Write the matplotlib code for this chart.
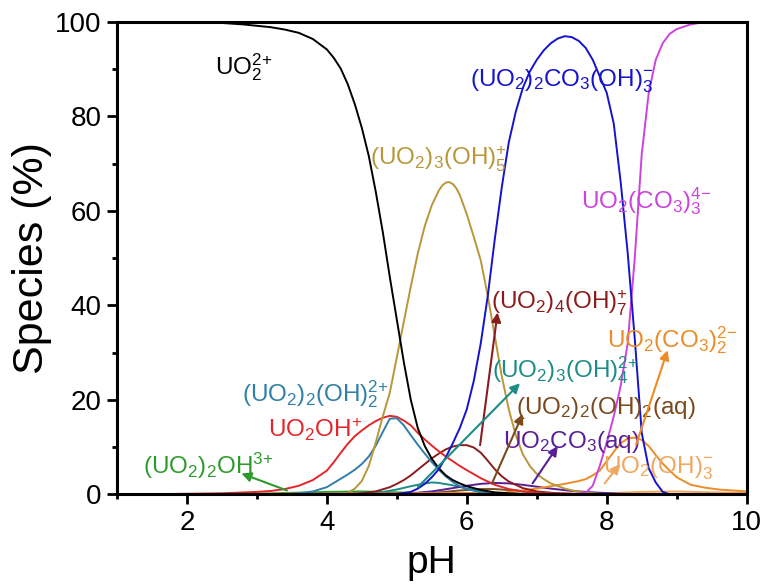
import matplotlib
matplotlib.use("Agg")
import matplotlib.pyplot as plt
from matplotlib.ticker import MultipleLocator

plt.rcParams['font.family'] = ['Liberation Sans', 'DejaVu Sans']
plt.rcParams['mathtext.fontset'] = 'custom'
plt.rcParams['mathtext.rm'] = 'Liberation Sans'
plt.rcParams['mathtext.it'] = 'Liberation Sans:italic'
plt.rcParams['mathtext.bf'] = 'Liberation Sans:bold'

# ---- data (pH, species %) ----
ph_uo2 = [1.4, 2.0, 2.5, 2.8, 3.0, 3.2, 3.4, 3.6, 3.8, 4.0, 4.1, 4.2, 4.3, 4.4, 4.5, 4.6, 4.7, 4.8,
          4.9, 5.0, 5.1, 5.2, 5.3, 5.4, 5.5, 5.6, 5.7, 5.8, 5.9, 6.0, 6.2, 6.4, 6.6, 7.0, 10.0]
uo2 = [100, 100, 99.8, 99.5, 99.2, 98.9, 98.4, 97.7, 96.4, 94.2, 92.4, 90.1, 86.8, 82.6, 77.6, 71.6, 64, 55.5,
       46, 37, 28, 20, 14, 10.2, 7.5, 5.5, 4, 3, 2.3, 1.7, 0.9, 0.4, 0.2, 0, 0]

ph_uo2oh = [1.4, 2.0, 2.5, 3.0, 3.2, 3.4, 3.6, 3.8, 4.0, 4.1, 4.2, 4.3, 4.4, 4.5, 4.6, 4.7, 4.8, 4.9,
            5.0, 5.1, 5.2, 5.3, 5.4, 5.5, 5.6, 5.7, 5.8, 5.9, 6.0, 6.2, 6.4, 6.6, 6.8, 7.0, 7.5, 8.0, 10.0]
uo2oh = [0, 0.1, 0.2, 0.5, 0.7, 1.1, 1.8, 3, 5.0, 6.8, 8.8, 10.7, 12.3, 13.5, 14.6, 15.5, 16.2, 16.6,
         16.4, 15.6, 14.6, 13, 11.6, 10.3, 9.1, 8, 7, 6, 5.1, 3.4, 2, 1.1, 0.6, 0.3, 0.1, 0, 0]

ph_u2oh2 = [1.4, 3.4, 3.6, 3.8, 4.0, 4.1, 4.2, 4.3, 4.4, 4.5, 4.6, 4.7, 4.8, 4.9, 5.0, 5.1, 5.2, 5.3,
            5.4, 5.5, 5.6, 5.7, 5.8, 5.9, 6.0, 6.2, 6.4, 6.6, 10.0]
u2oh2 = [0, 0, 0.2, 0.6, 1.5, 2.4, 3.3, 4.2, 5.2, 6.4, 8, 10.3, 13.2, 16, 16.1, 14.6, 12.5, 10.5,
         8.6, 6.8, 5.2, 3.8, 2.6, 1.7, 1.1, 0.4, 0.1, 0, 0]

ph_u3oh5 = [1.4, 4.2, 4.3, 4.4, 4.5, 4.6, 4.7, 4.8, 4.9, 5.0, 5.1, 5.2, 5.3, 5.4, 5.5, 5.6, 5.65, 5.7,
            5.75, 5.8, 5.85, 5.9, 6.0, 6.1, 6.2, 6.3, 6.4, 6.5, 6.6, 6.7, 6.8, 6.9, 7.0, 7.1, 7.2,
            7.4, 7.6, 7.8, 8.0, 10.0]
u3oh5 = [0, 0, 0.3, 1.2, 2.8, 6, 11, 16.5, 21.5, 29, 36.5, 44, 51, 56.8, 61.2, 64.3, 65.4, 66,
         66.1, 65.7, 64.8, 63.4, 59.3, 54.5, 49.5, 42, 33.5, 25, 18, 12.5, 8.5, 6, 4.3, 3.2, 2.3,
         1.2, 0.5, 0.2, 0, 0]

ph_u4oh7 = [1.4, 4.3, 4.5, 4.7, 4.9, 5.0, 5.1, 5.2, 5.3, 5.4, 5.5, 5.6, 5.7, 5.8, 5.9, 6.0, 6.1, 6.2,
            6.3, 6.4, 6.5, 6.6, 6.8, 7.0, 7.3, 7.6, 10.0]
u4oh7 = [0, 0, 0.2, 0.6, 1.5, 2.2, 3, 4, 5.2, 6.4, 7.6, 8.6, 9.5, 10.1, 10.4, 10.4, 9.9, 8.8,
         7.1, 5.3, 3.8, 2.7, 1.3, 0.6, 0.2, 0, 0]

ph_u3oh4 = [1.4, 4.5, 4.8, 5.0, 5.2, 5.4, 5.5, 5.6, 5.8, 6.0, 6.2, 6.4, 6.8, 10.0]
u3oh4 = [0, 0.1, 0.5, 1, 1.7, 2.3, 2.5, 2.4, 1.9, 1.2, 0.7, 0.3, 0, 0]

ph_u2oh2aq = [1.4, 5.3, 5.6, 5.9, 6.2, 6.4, 6.7, 7.0, 7.4, 7.8, 10.0]
u2oh2aq = [0, 0.1, 0.4, 0.8, 1.1, 1.1, 0.8, 0.4, 0.1, 0, 0]

ph_u2oh = [1.4, 3.0, 3.5, 4.0, 4.5, 5.0, 5.5, 6.0, 10.0]
u2oh = [0, 0.1, 0.3, 0.5, 0.6, 0.4, 0.1, 0, 0]

ph_uco3 = [1.4, 5.0, 5.2, 5.5, 5.8, 6.0, 6.2, 6.4, 6.6, 6.8, 7.0, 7.2, 7.5, 7.8, 8.2, 8.6, 10.0]
uco3 = [0, 0, 0.2, 0.6, 1.3, 1.8, 2.2, 2.4, 2.3, 2, 1.6, 1.2, 0.7, 0.4, 0.1, 0, 0]

ph_u2co3 = [1.4, 5.0, 5.2, 5.3, 5.4, 5.5, 5.6, 5.7, 5.8, 5.9, 6.0, 6.1, 6.2, 6.3, 6.4, 6.5, 6.6, 6.7,
            6.8, 6.9, 7.0, 7.1, 7.2, 7.3, 7.4, 7.5, 7.6, 7.7, 7.8, 7.9, 8.0, 8.1, 8.2, 8.3, 8.4, 8.5,
            8.6, 8.7, 8.8, 8.9, 10.0]
u2co3 = [0, 0.1, 0.5, 1.2, 2.2, 3.6, 5.3, 7.8, 10.8, 14, 18, 24, 32, 42, 54, 65, 74.5, 81,
         86, 89.5, 92, 94, 95.5, 96.5, 97, 96.8, 96, 94.5, 92, 88.5, 85, 78.5, 66, 51, 33, 13,
         5.5, 2.5, 0.5, 0, 0]

ph_uco3_3 = [1.4, 7.5, 7.7, 7.8, 7.9, 8.0, 8.1, 8.2, 8.3, 8.4, 8.5, 8.6, 8.7, 8.8, 8.9, 9.0, 9.2, 9.4, 10.0]
uco3_3 = [0, 0, 0.3, 1.8, 6, 11, 16.5, 23, 32, 50, 72, 85, 92, 95.5, 97.5, 98.5, 99.5, 100, 100]

ph_uco3_2 = [1.4, 6.5, 6.8, 7.0, 7.2, 7.4, 7.6, 7.7, 7.8, 7.9, 8.0, 8.1, 8.2, 8.3, 8.4, 8.5, 8.6, 8.7,
             8.8, 8.9, 9.0, 9.2, 9.4, 9.6, 9.8, 10.0]
uco3_2 = [0, 0.3, 0.8, 1.2, 1.7, 2.2, 2.8, 3.2, 4, 5, 7, 9, 10.8, 11.8, 12, 11.5, 10.2, 8.3,
          6.5, 5, 3.6, 2, 1.4, 1, 0.8, 0.6]

ph_uoh3 = [1.4, 7.5, 8.0, 8.5, 9.0, 9.5, 10.0]
uoh3 = [0, 0, 0.2, 0.5, 0.6, 0.4, 0.3]

# colours
c_black = 'black'
c_red = '#e3262a'
c_steel = '#2f7fa8'
c_olive = '#b8963a'
c_maroon = '#8a1c1c'
c_teal = '#1c8c86'
c_brown = '#7a4a1e'
c_green = '#2e9a2e'
c_purple = '#5a1e96'
c_blue = '#1414cc'
c_magenta = '#cc44dd'
c_orange = '#ec8c26'
c_lorange = '#f0a75e'

fig = plt.figure(figsize=(7.69, 5.87), dpi=100)
ax = fig.add_axes([0.152, 0.158, 0.819, 0.8045])

lw = 1.4
ax.plot(ph_u2oh, u2oh, color=c_green, lw=lw)
ax.plot(ph_uoh3, uoh3, color=c_lorange, lw=lw)
ax.plot(ph_u2oh2aq, u2oh2aq, color=c_brown, lw=lw)
ax.plot(ph_u3oh4, u3oh4, color=c_teal, lw=lw)
ax.plot(ph_uco3, uco3, color=c_purple, lw=lw)
ax.plot(ph_uco3_2, uco3_2, color=c_orange, lw=lw)
ax.plot(ph_u4oh7, u4oh7, color=c_maroon, lw=lw)
ax.plot(ph_uo2oh, uo2oh, color=c_red, lw=lw)
ax.plot(ph_u2oh2, u2oh2, color=c_steel, lw=lw)
ax.plot(ph_u3oh5, u3oh5, color=c_olive, lw=lw)
ax.plot(ph_uo2, uo2, color=c_black, lw=lw)
ax.plot(ph_uco3_3, uco3_3, color=c_magenta, lw=lw)
ax.plot(ph_u2co3, u2co3, color=c_blue, lw=lw)

fs = 17.5
# plain labels
ax.text(2.81, 90.5, r'$\mathregular{UO_2^{2{+}}}$', color=c_black, fontsize=fs, ha='center', va='center')
ax.text(7.36, 87.5, r'$\mathregular{(UO_2)_2CO_3(OH)_3^{{-}}}$', color=c_blue, fontsize=fs, ha='center', va='center')
ax.text(5.6, 71, r'$\mathregular{(UO_2)_3(OH)_5^{{+}}}$', color=c_olive, fontsize=fs, ha='center', va='center')
ax.text(8.57, 62, r'$\mathregular{UO_2(CO_3)_3^{4{-}}}$', color=c_magenta, fontsize=fs, ha='center', va='center')
ax.text(3.84, 21.2, r'$\mathregular{(UO_2)_2(OH)_2^{2{+}}}$', color=c_steel, fontsize=fs, ha='center', va='center')
ax.text(3.83, 13.6, r'$\mathregular{UO_2OH^{{+}}}$', color=c_red, fontsize=fs, ha='center', va='center')

# labels with arrows
arrow_kw = dict(arrowstyle='-|>', lw=1.5, mutation_scale=14, shrinkA=0, shrinkB=0)
def label(txt, xy_text, xy_from, xy_tip, color):
    ax.text(xy_text[0], xy_text[1], txt, color=color, fontsize=fs, ha='center', va='center', zorder=3)
    ax.annotate('', xy=xy_tip, xytext=xy_from, arrowprops=dict(color=color, **arrow_kw), zorder=4)

label(r'$\mathregular{(UO_2)_2OH^{3{+}}}$', (2.3, 6.1), (3.43, 0.8), (2.78, 4.4), c_green)
label(r'$\mathregular{(UO_2)_4(OH)_7^{{+}}}$', (7.33, 40.5), (6.19, 10.4), (6.44, 38.5), c_maroon)
label(r'$\mathregular{(UO_2)_3(OH)_4^{2{+}}}$', (7.41, 26.3), (5.3, 1.5), (6.76, 23.5), c_teal)
label(r'$\mathregular{(UO_2)_2(OH)_2(aq)}$', (7.99, 18.2), (6.36, 2.3), (6.8, 17.0), c_brown)
label(r'$\mathregular{UO_2CO_3(aq)}$', (7.5, 11.0), (6.94, 2.3), (7.3, 10.2), c_purple)
label(r'$\mathregular{UO_2(CO_3)_2^{2{-}}}$', (8.93, 32.6), (8.42, 10.5), (8.87, 30.5), c_orange)
label(r'$\mathregular{UO_2(OH)_3^{{-}}}$', (8.74, 5.5), (7.97, 2.3), (8.19, 6.4), c_lorange)

ax.set_xlim(1.0, 10.0)
ax.set_ylim(0, 100)
ax.xaxis.set_major_locator(MultipleLocator(2))
ax.xaxis.set_minor_locator(MultipleLocator(1))
ax.yaxis.set_major_locator(MultipleLocator(20))
ax.yaxis.set_minor_locator(MultipleLocator(10))
ax.set_xticks([2, 4, 6, 8, 10])

for s in ax.spines.values():
    s.set_linewidth(2.2)
ax.tick_params(which='major', direction='out', length=7, width=2, labelsize=20, pad=4)
ax.tick_params(which='minor', direction='out', length=3.5, width=2)
ax.tick_params(top=False, right=False)

ax.set_xlabel('pH', fontsize=28, labelpad=7)
ax.set_ylabel('Species (%)', fontsize=31, labelpad=2)

fig.savefig('out.png', dpi=100)
